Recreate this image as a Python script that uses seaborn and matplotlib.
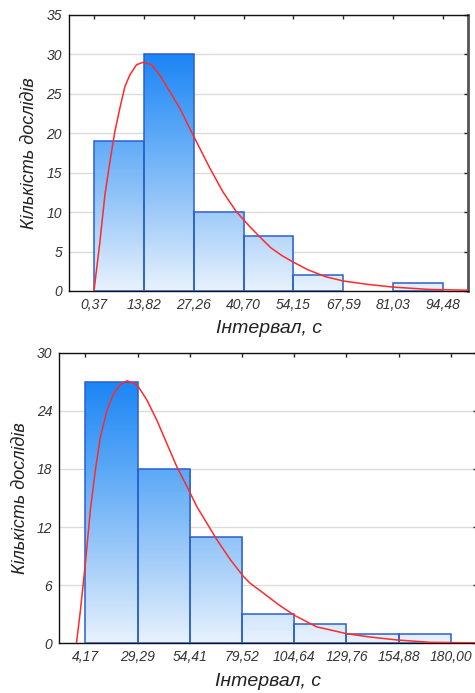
import matplotlib
matplotlib.use("Agg")
import matplotlib.pyplot as plt
import seaborn as sns
import numpy as np
from matplotlib.colors import LinearSegmentedColormap

sns.set_theme(style="white")
plt.rcParams['font.family'] = ['Liberation Sans', 'DejaVu Sans']

# ---- data: top histogram ----
top_edges = [0.37, 13.82, 27.26, 40.70, 54.15, 67.59, 81.03, 94.48]
top_tick_labels = ["0,37", "13,82", "27,26", "40,70", "54,15", "67,59", "81,03", "94,48"]
top_counts = [19, 30, 10, 7, 2, 0, 1]
top_curve_x = [0.37, 1.98, 3.33, 4.67, 6.0, 7.36, 8.7, 10.05, 11.85, 13.6, 15.9, 18.1, 20.8,
               23.5, 26.2, 28.9, 31.6, 35.1, 38.7, 42.3, 45.0, 48.0, 51.0, 53.96, 58.0,
               62.9, 67.59, 74.0, 80.85, 90.7, 101.2]
top_curve_y = [0.0, 6.25, 12.2, 16.4, 20.2, 23.2, 25.9, 27.4, 28.7, 29.0, 28.7, 27.4, 25.3,
               23.2, 20.6, 18.1, 15.6, 12.6, 10.1, 8.2, 6.9, 5.5, 4.5, 3.7, 2.7,
               1.8, 1.27, 0.85, 0.5, 0.2, 0.1]
top_yticks = [0, 5, 10, 15, 20, 25, 30, 35]

# ---- data: bottom histogram ----
bot_edges = [4.17, 29.29, 54.41, 79.52, 104.64, 129.76, 154.88, 180.00]
bot_tick_labels = ["4,17", "29,29", "54,41", "79,52", "104,64", "129,76", "154,88", "180,00"]
bot_counts = [27, 18, 11, 3, 2, 1, 1]
bot_curve_x = [-0.15, 1.77, 4.17, 6.57, 8.97, 11.37, 14.6, 17.8, 21.0, 24.2, 29.0, 33.8, 38.6,
               43.4, 48.2, 53.0, 57.8, 62.6, 67.4, 74.0, 80.2, 83.4, 89.7, 97.0, 104.64,
               115.4, 129.76, 141.0, 153.9, 169.9, 191.5]
bot_curve_y = [0.0, 3.4, 8.3, 13.8, 17.9, 21.3, 24.1, 25.8, 26.7, 27.1, 26.7, 25.1, 23.0,
               20.6, 18.2, 16.2, 14.1, 12.4, 10.7, 8.6, 6.9, 6.2, 5.2, 4.0, 2.9,
               1.7, 1.0, 0.65, 0.35, 0.1, 0.05]
bot_yticks = [0, 6, 12, 18, 24, 30]

XLABEL = "Інтервал, с"
YLABEL = "Кількість дослідів"

W, H = 475, 693
fig = plt.figure(figsize=(W / 100, H / 100), dpi=100)
fig.patch.set_facecolor("white")

cmap = LinearSegmentedColormap.from_list("bluegrad", ["#e8f2fd", "#9fcbf9", "#5aa8f7", "#1c85f5"])
edge_col = "#2a5fcf"
tick_col = "#333333"


def px_axes(left, top, right, bottom):
    return fig.add_axes([left / W, 1 - bottom / H, (right - left) / W, (bottom - top) / H])


def draw(ax, edges, labels, counts, cx, cy, yticks, ymax):
    centers = [(a + b) / 2 for a, b in zip(edges[:-1], edges[1:])]
    step = edges[1] - edges[0]
    sns.histplot(x=centers, weights=counts, bins=edges, ax=ax, stat="count",
                 color="#5aa8f7", edgecolor=edge_col, linewidth=1.1, alpha=1, zorder=2)
    vmax = max(counts)
    grad = np.linspace(0, 1, 256).reshape(-1, 1)
    for p in ax.patches:
        x0 = p.get_x()
        w, h = p.get_width(), p.get_height()
        if h <= 0:
            p.set_visible(False)
            continue
        p.set_facecolor("none")
        p.set_zorder(3)
        im = ax.imshow(grad, cmap=cmap, origin="lower", aspect="auto",
                       extent=[x0, x0 + w, 0, vmax], zorder=2, interpolation="bilinear")
        im.set_clip_path(p)
    sns.lineplot(x=cx, y=cy, ax=ax, color="#ff2a2a", linewidth=1.1, sort=False,
                 estimator=None, zorder=4)
    ax.set_xlim(edges[0] - step / 2, edges[-1] + step / 2)
    ax.set_ylim(0, ymax)
    ax.set_xticks(edges)
    ax.set_xticklabels(labels)
    ax.set_yticks(yticks)
    ax.set_yticklabels([str(t) for t in yticks])
    ax.yaxis.grid(True, color="#dcdcdc", linewidth=1.0, zorder=0)
    ax.xaxis.grid(False)
    ax.set_axisbelow(True)
    ax.tick_params(axis="both", which="both", direction="in", length=0,
                   labelsize=10, labelcolor=tick_col, pad=5)
    ax.tick_params(top=True, right=True, length=3, width=1, color="#222222",
                   labeltop=False, labelright=False, bottom=False, left=False)
    for lbl in ax.get_xticklabels() + ax.get_yticklabels():
        lbl.set_fontstyle("italic")
    for s in ["left", "bottom", "top"]:
        ax.spines[s].set_visible(True)
        ax.spines[s].set_color("#111111")
        ax.spines[s].set_linewidth(1.0)
    ax.spines["right"].set_visible(True)
    ax.spines["right"].set_color("#555555")
    ax.spines["right"].set_linewidth(2.0)
    ax.set_xlabel(XLABEL, fontsize=14, fontstyle="italic", color="#222222", labelpad=6)
    ax.set_ylabel(YLABEL, fontsize=13, fontstyle="italic", color="#222222", labelpad=6)
    ax.set_facecolor("white")


ax1 = px_axes(69, 15, 468, 291)
draw(ax1, top_edges, top_tick_labels, top_counts, top_curve_x, top_curve_y, top_yticks, 35)

ax2 = px_axes(59.3, 352.7, 477, 643.3)
draw(ax2, bot_edges, bot_tick_labels, bot_counts, bot_curve_x, bot_curve_y, bot_yticks, 30)

fig.savefig("out.png", dpi=100, facecolor="white")
